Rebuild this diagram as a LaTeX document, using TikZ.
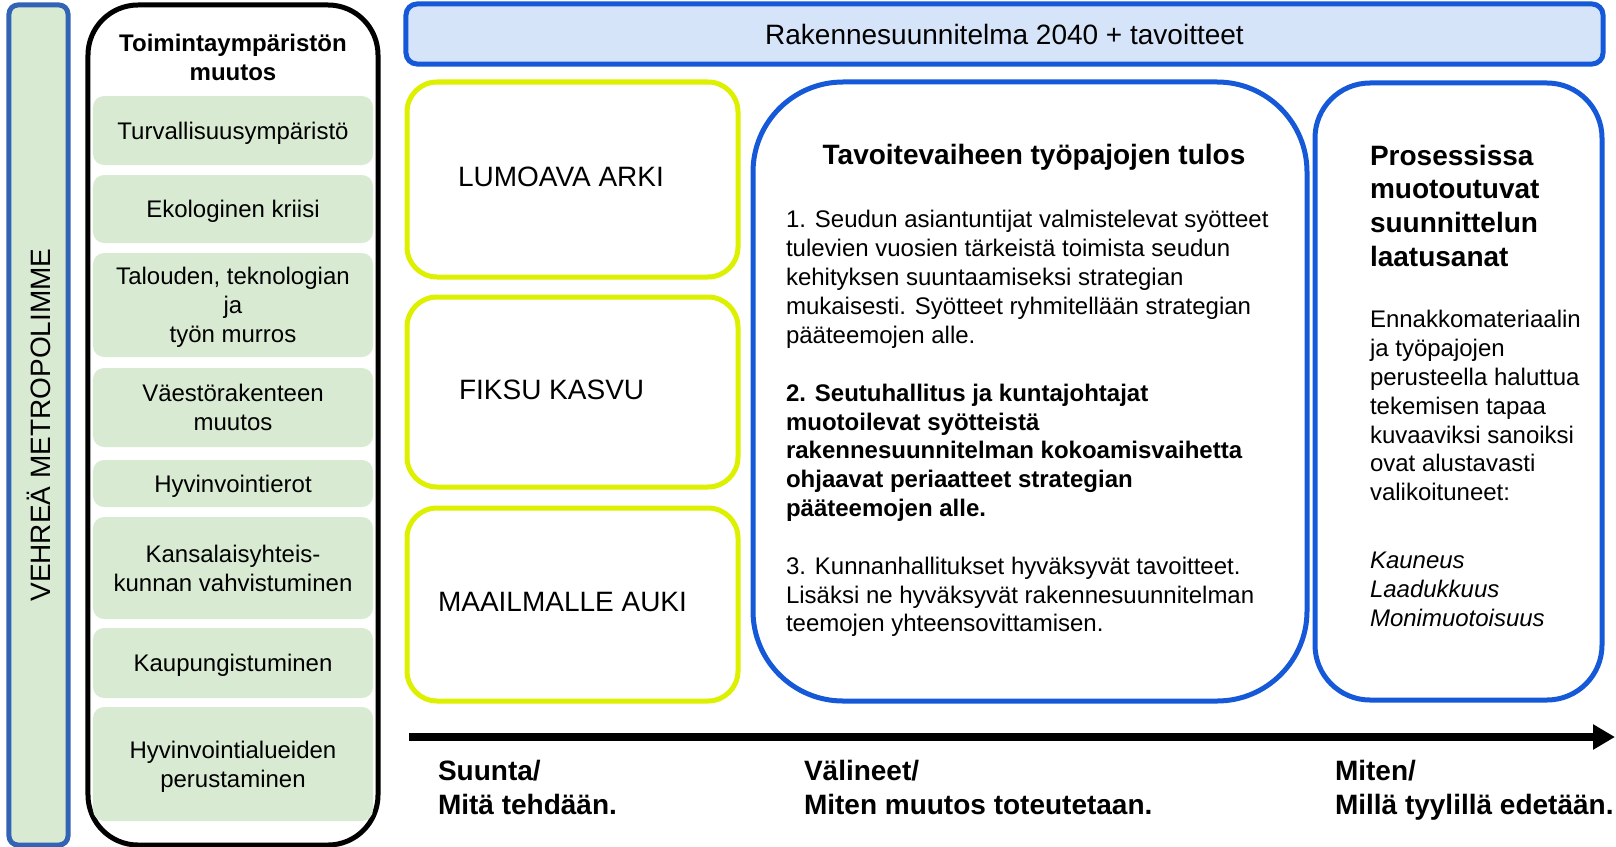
\documentclass[tikz,border=0pt]{standalone}
\usepackage{fontspec}
\setmainfont{Liberation Sans}
\usetikzlibrary{arrows.meta}
\definecolor{vmblue}{HTML}{3363B4}
\definecolor{lgreen}{HTML}{D9EAD3}
\definecolor{bfill}{HTML}{D6E4F9}
\definecolor{bblue}{HTML}{1559D8}
\definecolor{ylw}{HTML}{DCF000}
\begin{document}
\begin{tikzpicture}[x=1bp,y=-1bp,
  every node/.style={inner sep=0pt,outer sep=0pt},
  fA/.style={font=\fontsize{24bp}{28.8bp}\selectfont},
  fAb/.style={font=\fontsize{24bp}{28.8bp}\selectfont\bfseries},
  fAi/.style={font=\fontsize{24bp}{28.8bp}\selectfont\itshape},
  fB/.style={font=\fontsize{28bp}{33.6bp}\selectfont},
  fBb/.style={font=\fontsize{28bp}{33.6bp}\selectfont\bfseries},
  vmbox/.style={draw=vmblue,fill=lgreen,line width=5bp,rounded corners=9bp,fB},
  blackbox/.style={draw=black,line width=5bp,rounded corners=50bp},
  item/.style={fill=lgreen,rounded corners=11bp,minimum width=280bp,align=center,fA,text depth=0pt},
  banner/.style={draw=bblue,fill=bfill,line width=5bp,rounded corners=11bp,fB},
  ybox/.style={draw=ylw,line width=5bp,rounded corners=30bp,minimum width=331bp},
  bbox/.style={draw=bblue,line width=5bp},
  para/.style={anchor=north west,align=left},
  flow/.style={line width=8bp,-{Triangle[length=22bp,width=24bp]}}
]
\useasboundingbox (0,0) rectangle (1616,846);

% left vertical bar
\node[vmbox,rotate=90,minimum width=840bp,minimum height=59bp] (vm) at (38.5,425) {VEHRE\"A METROPOLIMME};

% environment change column
\node[blackbox,minimum width=290bp,minimum height=840bp] (env) at (233,425) {};
\node[fAb,align=center] (envt) at (233,57.5) {Toimintaymp\"arist\"on\\muutos};
\node[item,minimum height=69bp] (i1) at (233,130.5) {Turvallisuusymp\"arist\"o};
\node[item,minimum height=68bp] (i2) at (233,209) {Ekologinen kriisi};
\node[item,minimum height=104bp] (i3) at (233,305) {Talouden, teknologian\\ja\\ty\"on murros};
\node[item,minimum height=79bp] (i4) at (233,407.5) {V\"aest\"orakenteen\\muutos};
\node[item,minimum height=47bp] (i5) at (233,483.5) {Hyvinvointierot};
\node[item,minimum height=102bp] (i6) at (233,568) {Kansalaisyhteis-\\kunnan vahvistuminen};
\node[item,minimum height=70bp] (i7) at (233,663) {Kaupungistuminen};
\node[item,minimum height=114bp] (i8) at (233,764) {Hyvinvointialueiden\\perustaminen};

% banner
\node[banner,minimum width=1197bp,minimum height=60bp] (ban) at (1004.5,34) {Rakennesuunnitelma 2040 + tavoitteet};

% yellow boxes
\node[ybox,minimum height=195bp] (y1) at (572.5,179.5) {};
\node[ybox,minimum height=190bp] (y2) at (572.5,392) {};
\node[ybox,minimum height=193bp] (y3) at (572.5,604.5) {};
\node[fB,anchor=west] (y1t) at (458,177) {LUMOAVA ARKI};
\node[fB,anchor=west] (y2t) at (459,390) {FIKSU KASVU};
\node[fB,anchor=west] (y3t) at (438,602) {MAAILMALLE AUKI};

% middle box
\node[bbox,rounded corners=90bp,minimum width=554bp,minimum height=619bp] (mid) at (1030,391.5) {};
\node[fBb] (midt) at (1034,157.5) {Tavoitevaiheen ty\"opajojen tulos};
\node[para,fA] (m1) at (786,210.5) {1. Seudun asiantuntijat valmistelevat sy\"otteet\\tulevien vuosien t\"arkeist\"a toimista seudun\\kehityksen suuntaamiseksi strategian\\mukaisesti. Sy\"otteet ryhmitell\"a\"an strategian\\p\"a\"ateemojen alle.};
\node[para,fAb] (m2) at (786,384) {2. Seutuhallitus ja kuntajohtajat\\muotoilevat sy\"otteist\"a\\rakennesuunnitelman kokoamisvaihetta\\ohjaavat periaatteet strategian\\p\"a\"ateemojen alle.};
\node[para,fA] (m3) at (786,557) {3. Kunnanhallitukset hyv\"aksyv\"at tavoitteet.\\Lis\"aksi ne hyv\"aksyv\"at rakennesuunnitelman\\teemojen yhteensovittamisen.};

% right box
\node[bbox,rounded corners=55bp,minimum width=287bp,minimum height=617bp] (rgt) at (1458.5,391.5) {};
\node[para,fBb] (r1) at (1370,145) {Prosessissa\\muotoutuvat\\suunnittelun\\laatusanat};
\node[para,fA] (r2) at (1370,310.5) {Ennakkomateriaalin\\ja ty\"opajojen\\perusteella haluttua\\tekemisen tapaa\\kuvaaviksi sanoiksi\\ovat alustavasti\\valikoituneet:};
\node[para,fAi] (r3) at (1370,552) {Kauneus\\Laadukkuus\\Monimuotoisuus};

% arrow
\coordinate (arS) at (409,737);
\coordinate (arE) at (1615,737);
\draw[flow] (arS) -- (arE);

% bottom labels
\node[para,fBb] (b1) at (438,760.5) {Suunta/\\Mit\"a tehd\"a\"an.};
\node[para,fBb] (b2) at (804,760.5) {V\"alineet/\\Miten muutos toteutetaan.};
\node[para,fBb] (b3) at (1335,760.5) {Miten/\\Mill\"a tyylill\"a edet\"a\"an.};
\end{tikzpicture}
\end{document}
